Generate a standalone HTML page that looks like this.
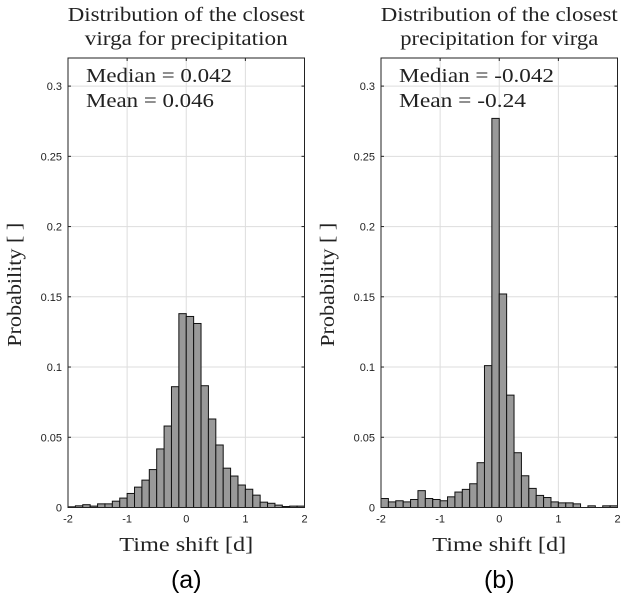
<!DOCTYPE html>
<html><head><meta charset="utf-8"><style>
html,body{margin:0;padding:0;background:#fff;}
svg{display:block;}
.ser{font-family:"Liberation Serif",serif;fill:#222;}
.tick{font-family:"Liberation Sans",sans-serif;font-size:11px;fill:#222;}
</style></head><body>
<svg id="chart" width="627" height="599" xmlns="http://www.w3.org/2000/svg"></svg>
<script>
const binEdgesStart = -2;
const binWidth = 0.125;
const xTicks = [-2, -1, 0, 1, 2];
const xTickLabels = ["-2", "-1", "0", "1", "2"];
const yTicks = [0, 0.05, 0.1, 0.15, 0.2, 0.25, 0.3];
const yTickLabels = ["0", "0.05", "0.1", "0.15", "0.2", "0.25", "0.3"];
const probA = [0.0005,0.0012,0.002,0.001,0.0026,0.0026,0.0045,0.0067,0.010,0.0145,0.0195,0.027,0.0417,0.058,0.086,0.138,0.136,0.131,0.0867,0.063,0.0445,0.028,0.0224,0.016,0.013,0.0088,0.0038,0.003,0.0017,0.0007,0.001,0.001];
const probB = [0.0064,0.004,0.0048,0.004,0.0057,0.012,0.0064,0.0057,0.0048,0.0076,0.011,0.0129,0.0169,0.0319,0.101,0.277,0.152,0.080,0.039,0.0226,0.0136,0.0086,0.0071,0.004,0.0033,0.0033,0.0026,0,0.0012,0,0.0012,0.0012];
const titlesA = ["Distribution of the closest","virga for precipitation"];
const titlesB = ["Distribution of the closest","precipitation for virga"];
const statsA = ["Median = 0.042","Mean = 0.046"];
const statsB = ["Median = -0.042","Mean = -0.24"];

const NS="http://www.w3.org/2000/svg";
const svg=document.getElementById('chart');
function mk(tag,attrs,parent){const e=document.createElementNS(NS,tag);for(const k in attrs)e.setAttribute(k,attrs[k]);(parent||svg).appendChild(e);return e;}
function fitText(t,w){t.setAttribute('textLength',w);t.setAttribute('lengthAdjust','spacingAndGlyphs');}

function panel(x0,x1,data,titles,titleW,stats,statW,letter,key){
  const y0=507.5,y1=58,ymax=0.32;
  const sx=v=>x0+(v+2)/4*(x1-x0);
  const sy=v=>y0-v/ymax*(y0-y1);
  const g=mk('g',{});
  
  
  xTicks.forEach(t=>{const l=mk('line',{x1:sx(t),x2:sx(t),y1:y1,y2:y0,stroke:'#ddd','stroke-width':1},g);
    });
  yTicks.forEach(t=>{const l=mk('line',{x1:x0,x2:x1,y1:sy(t),y2:sy(t),stroke:'#ddd','stroke-width':1},g);
    });
  data.forEach((v,i)=>{const a=binEdgesStart+i*binWidth;
    if(v<=0)return;
    const r=mk('rect',{x:sx(a),y:sy(v),width:sx(a+binWidth)-sx(a),height:y0-sy(v),fill:'#999',stroke:'#111','stroke-width':1},g);
    });
  const b=mk('rect',{x:x0,y:y1,width:x1-x0,height:y0-y1,fill:'none',stroke:'#222','stroke-width':1},g);
  
  xTicks.forEach((t,i)=>{mk('line',{x1:sx(t),x2:sx(t),y1:y0,y2:y0-3,stroke:'#222'},g);mk('line',{x1:sx(t),x2:sx(t),y1:y1,y2:y1+3,stroke:'#222'},g);
    const tx=mk('text',{x:sx(t),y:y0+15,'text-anchor':'middle',class:'tick'},g);tx.textContent=xTickLabels[i];
    });
  yTicks.forEach((t,i)=>{mk('line',{x1:x0,x2:x0+3,y1:sy(t),y2:sy(t),stroke:'#222'},g);mk('line',{x1:x1,x2:x1-3,y1:sy(t),y2:sy(t),stroke:'#222'},g);
    const tx=mk('text',{x:x0-6,y:sy(t)+4,'text-anchor':'end',class:'tick'},g);tx.textContent=yTickLabels[i];
    });
  const cx=(x0+x1)/2;
  titles.forEach((s,i)=>{const t=mk('text',{x:cx,y:21+i*24,'text-anchor':'middle',class:'ser','font-size':'20px'},g);t.textContent=s;fitText(t,titleW[i]);
    });
  stats.forEach((s,i)=>{const t=mk('text',{x:x0+18,y:82+i*25,class:'ser','font-size':'20px'},g);t.textContent=s;fitText(t,statW[i]);
    });
  const xl=mk('text',{x:cx,y:551,'text-anchor':'middle',class:'ser','font-size':'20px'},g);xl.textContent='Time shift [d]';fitText(xl,134);
  
  const yl=mk('text',{x:0,y:0,'text-anchor':'middle',class:'ser','font-size':'20px',transform:`translate(${x0-47},${(y0+y1)/2+2}) rotate(-90)`},g);yl.textContent='Probability [ ]';fitText(yl,124);
  
  const lt=mk('text',{x:cx,y:588,'text-anchor':'middle','font-family':'Liberation Sans, sans-serif','font-size':'25px',fill:'#000'},g);lt.textContent=letter;
  
}
panel(68,304.5,probA,titlesA,[237,203],statsA,[146,128],'(a)','a');
panel(381,617.5,probB,titlesB,[237,198],statsB,[155,127],'(b)','b');
</script>
</body></html>
